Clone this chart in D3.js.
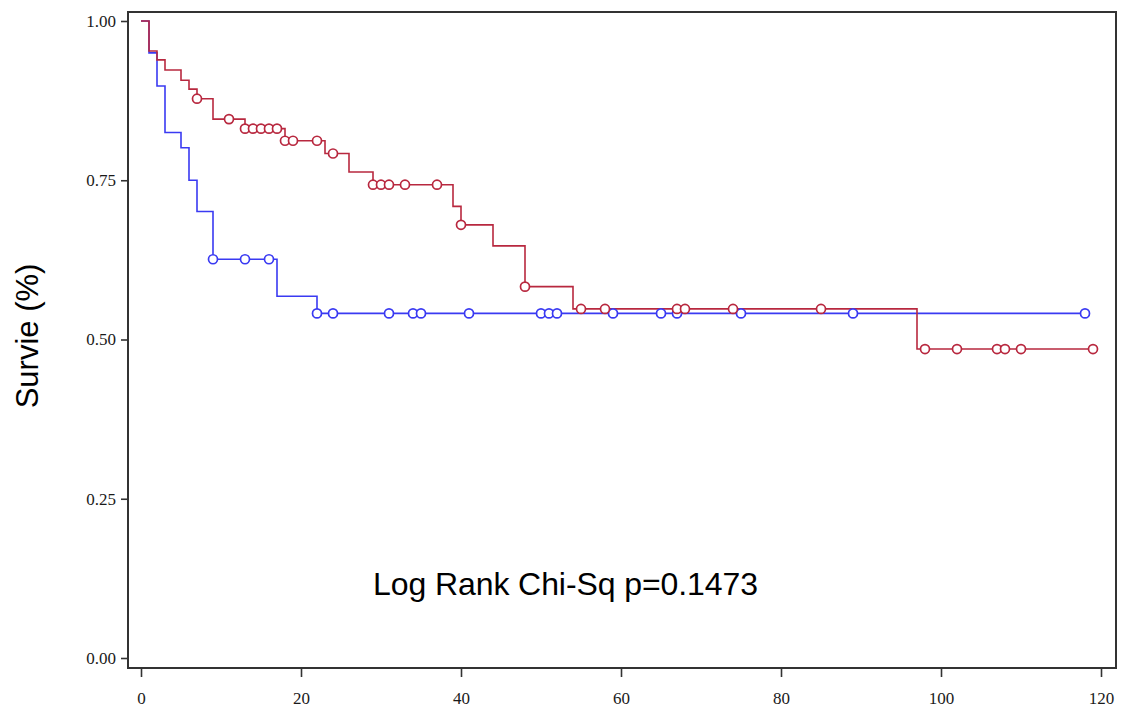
<!DOCTYPE html>
<html>
<head>
<meta charset="utf-8">
<script src="https://cdn.jsdelivr.net/npm/d3@7"></script>
<style>
  html, body { margin: 0; padding: 0; background: #fff; }
  svg { display: block; }
</style>
</head>
<body>
<svg id="chart" width="1121" height="708"></svg>
<script>
// ---- Data ----
const xTicks = [0, 20, 40, 60, 80, 100, 120];
const yTicks = [0, 0.25, 0.5, 0.75, 1.0];

// Red group: step times and survival after each drop
const redTimes    = [0, 1, 2, 3, 5, 6, 7, 9, 13, 18, 23, 26, 29, 39, 40, 44, 48, 54, 97];
const redSurv     = [1.0, 0.953, 0.939, 0.923, 0.907, 0.893, 0.878, 0.846, 0.831, 0.812, 0.792, 0.763, 0.743, 0.709, 0.680, 0.647, 0.583, 0.548, 0.485];
const redEnd      = 119;
const redCensored = [7, 11, 13, 14, 15, 16, 17, 18, 19, 22, 24, 29, 30, 31, 33, 37, 40, 48, 55, 58, 67, 68, 74, 85, 98, 102, 107, 108, 110, 119];

// Blue group
const blueTimes    = [0, 1, 2, 3, 5, 6, 7, 9, 17, 22];
const blueSurv     = [1.0, 0.950, 0.898, 0.825, 0.801, 0.750, 0.701, 0.626, 0.568, 0.541];
const blueEnd      = 118;
const blueCensored = [9, 13, 16, 22, 24, 31, 34, 35, 41, 50, 51, 52, 59, 65, 67, 75, 89, 118];

const annotation = "Log Rank Chi-Sq p=0.1473";
const yTitle = "Survie (%)";

// ---- Layout ----
const frame = { left: 128, top: 12, right: 1116, bottom: 668 };
const x = d3.scaleLinear().domain([0, 120]).range([141, 1101]);
const y = d3.scaleLinear().domain([0, 1]).range([658, 21]);

const svg = d3.select("#chart");

function stepPoints(times, surv, end) {
  const pts = times.map((t, i) => [t, surv[i]]);
  pts.push([end, surv[surv.length - 1]]);
  return pts;
}
function survAt(times, surv, t) {
  let s = surv[0];
  for (let i = 0; i < times.length; i++) if (times[i] <= t) s = surv[i];
  return s;
}

const line = d3.line()
  .x(d => x(d[0]))
  .y(d => y(d[1]))
  .curve(d3.curveStepAfter);

const groups = [
  { times: blueTimes, surv: blueSurv, end: blueEnd, cens: blueCensored, color: "#3a3af2" },
  { times: redTimes,  surv: redSurv,  end: redEnd,  cens: redCensored,  color: "#b8283f" }
];

groups.forEach(g => {
  svg.append("path")
    .attr("d", line(stepPoints(g.times, g.surv, g.end)))
    .attr("fill", "none")
    .attr("stroke", g.color)
    .attr("stroke-width", 1.6);
});
groups.forEach(g => {
  svg.append("g").selectAll("circle")
    .data(g.cens)
    .join("circle")
    .attr("cx", d => x(d))
    .attr("cy", d => y(survAt(g.times, g.surv, d)))
    .attr("r", 4.5)
    .attr("fill", "#fff")
    .attr("stroke", g.color)
    .attr("stroke-width", 1.7);
});

// ---- Frame ----
svg.append("rect")
  .attr("x", frame.left).attr("y", frame.top)
  .attr("width", frame.right - frame.left)
  .attr("height", frame.bottom - frame.top)
  .attr("fill", "none")
  .attr("stroke", "#333")
  .attr("stroke-width", 2);

// ---- Axes ----
const yAxis = d3.axisLeft(y).tickValues(yTicks).tickFormat(d3.format(".2f"))
  .tickSize(7).tickPadding(5);
const gy = svg.append("g").attr("transform", `translate(${frame.left},0)`).call(yAxis);
gy.select(".domain").remove();

const xAxis = d3.axisBottom(x).tickValues(xTicks).tickFormat(d3.format("d"))
  .tickSize(9).tickPadding(15);
const gx = svg.append("g").attr("transform", `translate(0,${frame.bottom})`).call(xAxis);
gx.select(".domain").remove();

[gx, gy].forEach(g => {
  g.selectAll("line").attr("stroke", "#333").attr("stroke-width", 1.6);
  g.selectAll("text")
    .attr("fill", "#1a1a1a")
    .style("font-family", "'Liberation Serif', 'Times New Roman', serif")
    .style("font-size", "17px");
});

// ---- Titles ----
svg.append("text")
  .attr("transform", "translate(38,336) rotate(-90)")
  .attr("text-anchor", "middle")
  .style("font-family", "'Liberation Sans', Arial, sans-serif")
  .style("font-size", "31px")
  .attr("fill", "#000")
  .text(yTitle);

svg.append("text")
  .attr("x", 373).attr("y", 595)
  .attr("textLength", 385)
  .style("font-family", "'Liberation Sans', Arial, sans-serif")
  .style("font-size", "32px")
  .attr("fill", "#000")
  .text(annotation);
</script>
</body>
</html>
